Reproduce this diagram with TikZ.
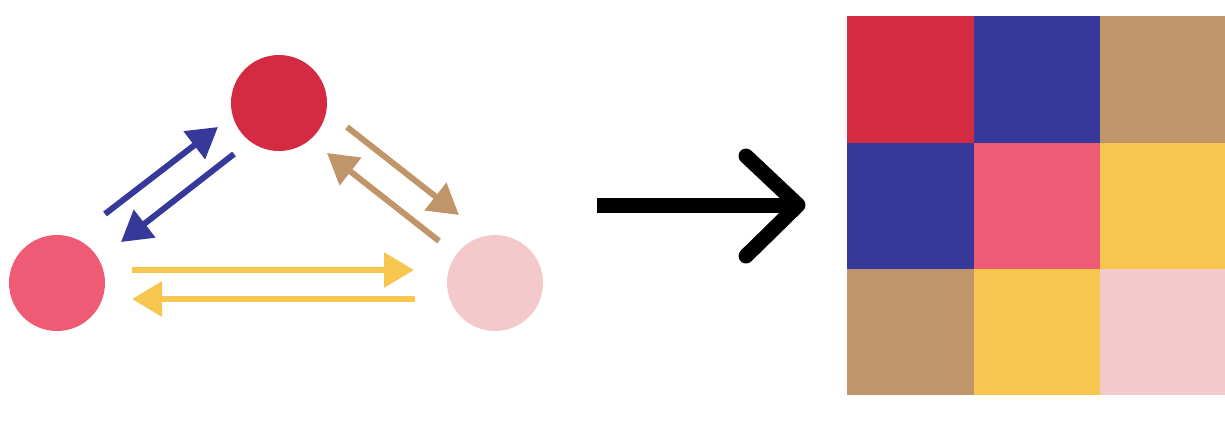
\documentclass[tikz,border=0pt]{standalone}
\usetikzlibrary{arrows.meta}
\definecolor{cred}{HTML}{D42A42}
\definecolor{cblue}{HTML}{36399A}
\definecolor{cbrown}{HTML}{C1956A}
\definecolor{cpink}{HTML}{EF5B75}
\definecolor{cyellow}{HTML}{F7C64E}
\definecolor{clight}{HTML}{F3C9CB}
\begin{document}
\begin{tikzpicture}[x=1pt,y=-1pt,
  dot/.style={circle,minimum size=96pt,inner sep=0pt,draw=none},
  flow/.style={line width=6pt,-{Triangle[length=30pt,width=34pt]}},
  cell/.style={minimum size=126.3pt,inner sep=0pt,draw=none,anchor=north west},
  bigarrow/.style={line width=15pt,black}]
\useasboundingbox (0,0) rectangle (1225,424);
% circles
\node[dot,fill=cred] (top) at (279,103) {};
\node[dot,fill=cpink] (left) at (57,283) {};
\node[dot,fill=clight] (right) at (495,283) {};
% arrow end points
\coordinate (b1s) at (105,214); \coordinate (b1e) at (218,127);
\coordinate (b2s) at (234,154); \coordinate (b2e) at (121,242);
\coordinate (r1s) at (347,127); \coordinate (r1e) at (459,215);
\coordinate (r2s) at (439,241); \coordinate (r2e) at (327,153);
\coordinate (y1s) at (132,270); \coordinate (y1e) at (414,270);
\coordinate (y2s) at (415,299); \coordinate (y2e) at (132,299);
\draw[flow,cblue] (b1s) -- (b1e);
\draw[flow,cblue] (b2s) -- (b2e);
\draw[flow,cbrown] (r1s) -- (r1e);
\draw[flow,cbrown] (r2s) -- (r2e);
\draw[flow,cyellow] (y1s) -- (y1e);
\draw[flow,cyellow] (y2s) -- (y2e);
% big arrow
\coordinate (ba) at (597,205);
\coordinate (bt) at (798,205);
\coordinate (bu) at (746,156);
\coordinate (bd) at (746,256);
\draw[bigarrow] (ba) -- (bt);
\draw[bigarrow,line cap=round,line join=round] (bu) -- (bt) -- (bd);
% grid
\node[cell,fill=cred]    (c11) at (847,16) {};
\node[cell,fill=cblue]   (c12) at (973.3,16) {};
\node[cell,fill=cbrown]  (c13) at (1099.6,16) {};
\node[cell,fill=cblue]   (c21) at (847,142.3) {};
\node[cell,fill=cpink]   (c22) at (973.3,142.3) {};
\node[cell,fill=cyellow] (c23) at (1099.6,142.3) {};
\node[cell,fill=cbrown]  (c31) at (847,268.6) {};
\node[cell,fill=cyellow] (c32) at (973.3,268.6) {};
\node[cell,fill=clight]  (c33) at (1099.6,268.6) {};
\end{tikzpicture}
\end{document}
